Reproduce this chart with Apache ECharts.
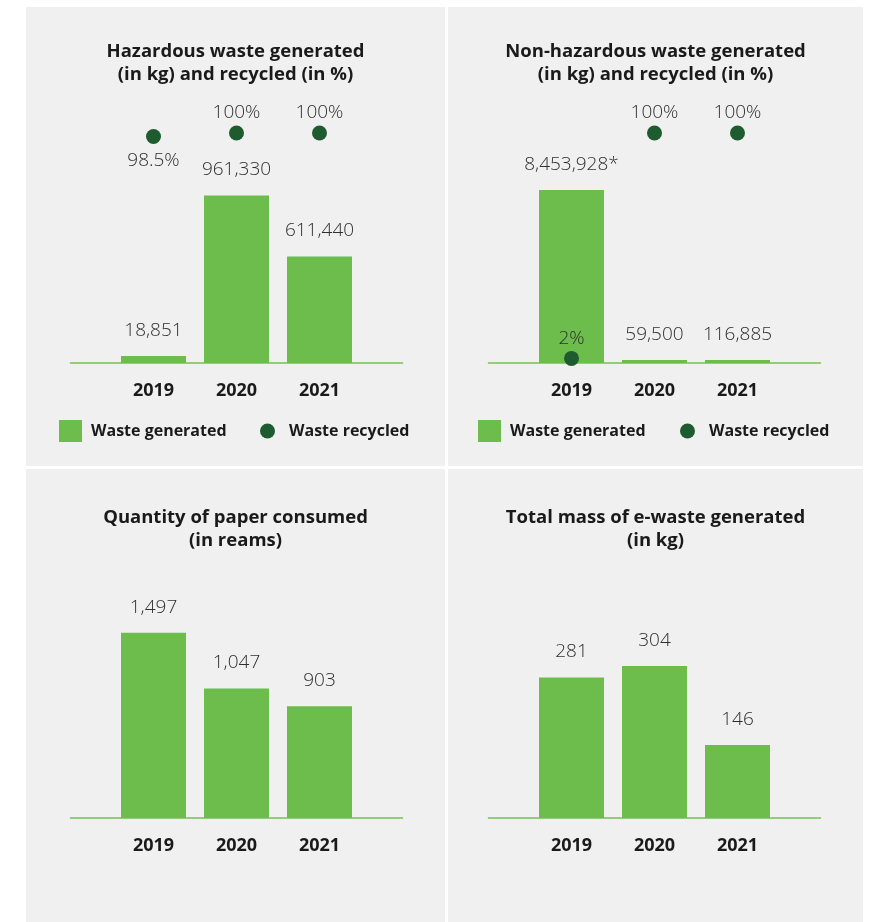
<!DOCTYPE html>
<html>
<head>
<meta charset="utf-8">
<script src="https://cdn.jsdelivr.net/npm/echarts@6/dist/echarts.min.js"></script>
<style>
  html, body { margin: 0; padding: 0; background: #ffffff; }
  .panel { position: absolute; background: #f0f0f0; }
</style>
</head>
<body>
<div id="hazardous" class="panel" style="left:26px;top:7px;width:419px;height:459px"></div>
<div id="nonHazardous" class="panel" style="left:448px;top:7px;width:415px;height:459px"></div>
<div id="paper" class="panel" style="left:26px;top:469px;width:419px;height:453px"></div>
<div id="ewaste" class="panel" style="left:448px;top:469px;width:415px;height:453px"></div>
<script>
// data
const years = ['2019', '2020', '2021']
const hazardousGenerated = [18851, 961330, 611440]
const hazardousRecycled = [98.5, 100, 100]
const nonHazardousGenerated = [8453928, 59500, 116885]
const nonHazardousNotes = ['*', '', '']
const nonHazardousRecycled = [2, 100, 100]
const paperConsumed = [1497, 1047, 903]
const eWasteGenerated = [281, 304, 146]

const FONT = "'Open Sans', sans-serif"
const BAR_COLOR = '#6cbd4b'
const DOT_COLOR = '#1e5c2f'
const LABEL_COLOR = '#2f2f2f'

// empty slot on each side so the axis line runs past the outer bars
function pad(arr) {
  return ['-'].concat(arr, ['-'])
}

function numLabel(v, note) {
  return Number(v).toLocaleString('en-US') + (note || '')
}

function buildOption(cfg) {
  const option = {
    animation: false,
    title: {
      text: cfg.title,
      left: 'center',
      top: cfg.titleTop,
      padding: 0,
      textStyle: {
        fontFamily: FONT,
        fontSize: 18.5,
        fontWeight: 'bold',
        color: '#1a1a1a',
        lineHeight: 23,
        align: 'center',
      },
    },
    grid: {
      left: cfg.gridLeft,
      top: cfg.gridTop,
      width: 332,
      height: cfg.gridHeight,
      containLabel: false,
    },
    xAxis: {
      type: 'category',
      data: ['', ...years, ''],
      boundaryGap: false,
      axisLine: { lineStyle: { color: '#74c152', width: 1.5 } },
      axisTick: { show: false },
      splitLine: { show: false },
      axisLabel: {
        interval: 0,
        margin: 19,
        fontFamily: FONT,
        fontSize: 18,
        fontWeight: 'bold',
        color: '#1a1a1a',
      },
    },
    yAxis: [
      { type: 'value', min: 0, max: cfg.max, show: false },
      { type: 'value', min: 0, max: 100, show: false },
    ],
    series: [
      {
        name: 'Waste generated',
        type: 'bar',
        data: pad(cfg.values),
        barWidth: 65,
        barMinHeight: cfg.minHeight || 0,
        itemStyle: { color: BAR_COLOR },
        label: {
          show: true,
          position: 'top',
          distance: 16,
          fontFamily: FONT,
          fontSize: 19,
          fontWeight: 300,
          color: LABEL_COLOR,
          formatter: (p) => numLabel(p.value, cfg.notes ? cfg.notes[p.dataIndex - 1] : ''),
        },
      },
    ],
  }

  if (cfg.recycled) {
    const dots = cfg.recycled.map((v, i) => {
      const item = { value: v }
      if (cfg.dotLabelBelow && cfg.dotLabelBelow[i]) {
        item.label = { position: 'bottom', distance: 7 }
      }
      return item
    })
    option.series.push({
      name: 'Waste recycled',
      type: 'scatter',
      yAxisIndex: 1,
      data: pad(dots),
      symbolSize: 15,
      z: 5,
      itemStyle: { color: DOT_COLOR, opacity: 1 },
      label: {
        show: true,
        position: 'top',
        distance: 3,
        fontFamily: FONT,
        fontSize: 19,
        fontWeight: 300,
        color: LABEL_COLOR,
        formatter: (p) => p.value + '%',
      },
    })
    const legendText = {
      fontFamily: FONT,
      fontSize: 16,
      fontWeight: 'bold',
      color: '#1a1a1a',
    }
    option.legend = [
      {
        data: ['Waste generated'],
        left: cfg.legendLeft[0],
        top: 413,
        padding: 0,
        icon: 'rect',
        itemWidth: 23,
        itemHeight: 22,
        selectedMode: false,
        textStyle: Object.assign({ padding: [0, 0, 0, 4] }, legendText),
      },
      {
        data: ['Waste recycled'],
        left: cfg.legendLeft[1],
        top: 416,
        padding: 0,
        icon: 'circle',
        itemWidth: 15,
        itemHeight: 15,
        selectedMode: false,
        itemStyle: { color: DOT_COLOR, opacity: 1 },
        textStyle: Object.assign({ padding: [0, 0, 0, 9] }, legendText),
      },
    ]
  }
  return option
}

const charts = [
  ['hazardous', buildOption({
    title: 'Hazardous waste generated\n(in kg) and recycled (in %)',
    titleTop: 33,
    gridLeft: 44.5,
    gridTop: 126,
    gridHeight: 230,
    max: 1320000,
    minHeight: 7,
    values: hazardousGenerated,
    recycled: hazardousRecycled,
    dotLabelBelow: [true, false, false],
    legendLeft: [33, 234],
  })],
  ['nonHazardous', buildOption({
    title: 'Non-hazardous waste generated\n(in kg) and recycled (in %)',
    titleTop: 33,
    gridLeft: 40.5,
    gridTop: 126,
    gridHeight: 230,
    max: 11240000,
    minHeight: 3,
    values: nonHazardousGenerated,
    notes: nonHazardousNotes,
    recycled: nonHazardousRecycled,
    legendLeft: [30, 232],
  })],
  ['paper', buildOption({
    title: 'Quantity of paper consumed\n(in reams)',
    titleTop: 37,
    gridLeft: 44.5,
    gridTop: 151,
    gridHeight: 198,
    max: 1600,
    values: paperConsumed,
  })],
  ['ewaste', buildOption({
    title: 'Total mass of e-waste generated\n(in kg)',
    titleTop: 37,
    gridLeft: 40.5,
    gridTop: 149,
    gridHeight: 200,
    max: 400,
    values: eWasteGenerated,
  })],
]

charts.forEach(([id, option]) => {
  const chart = echarts.init(document.getElementById(id))
  chart.setOption(option)
})
</script>
</body>
</html>
